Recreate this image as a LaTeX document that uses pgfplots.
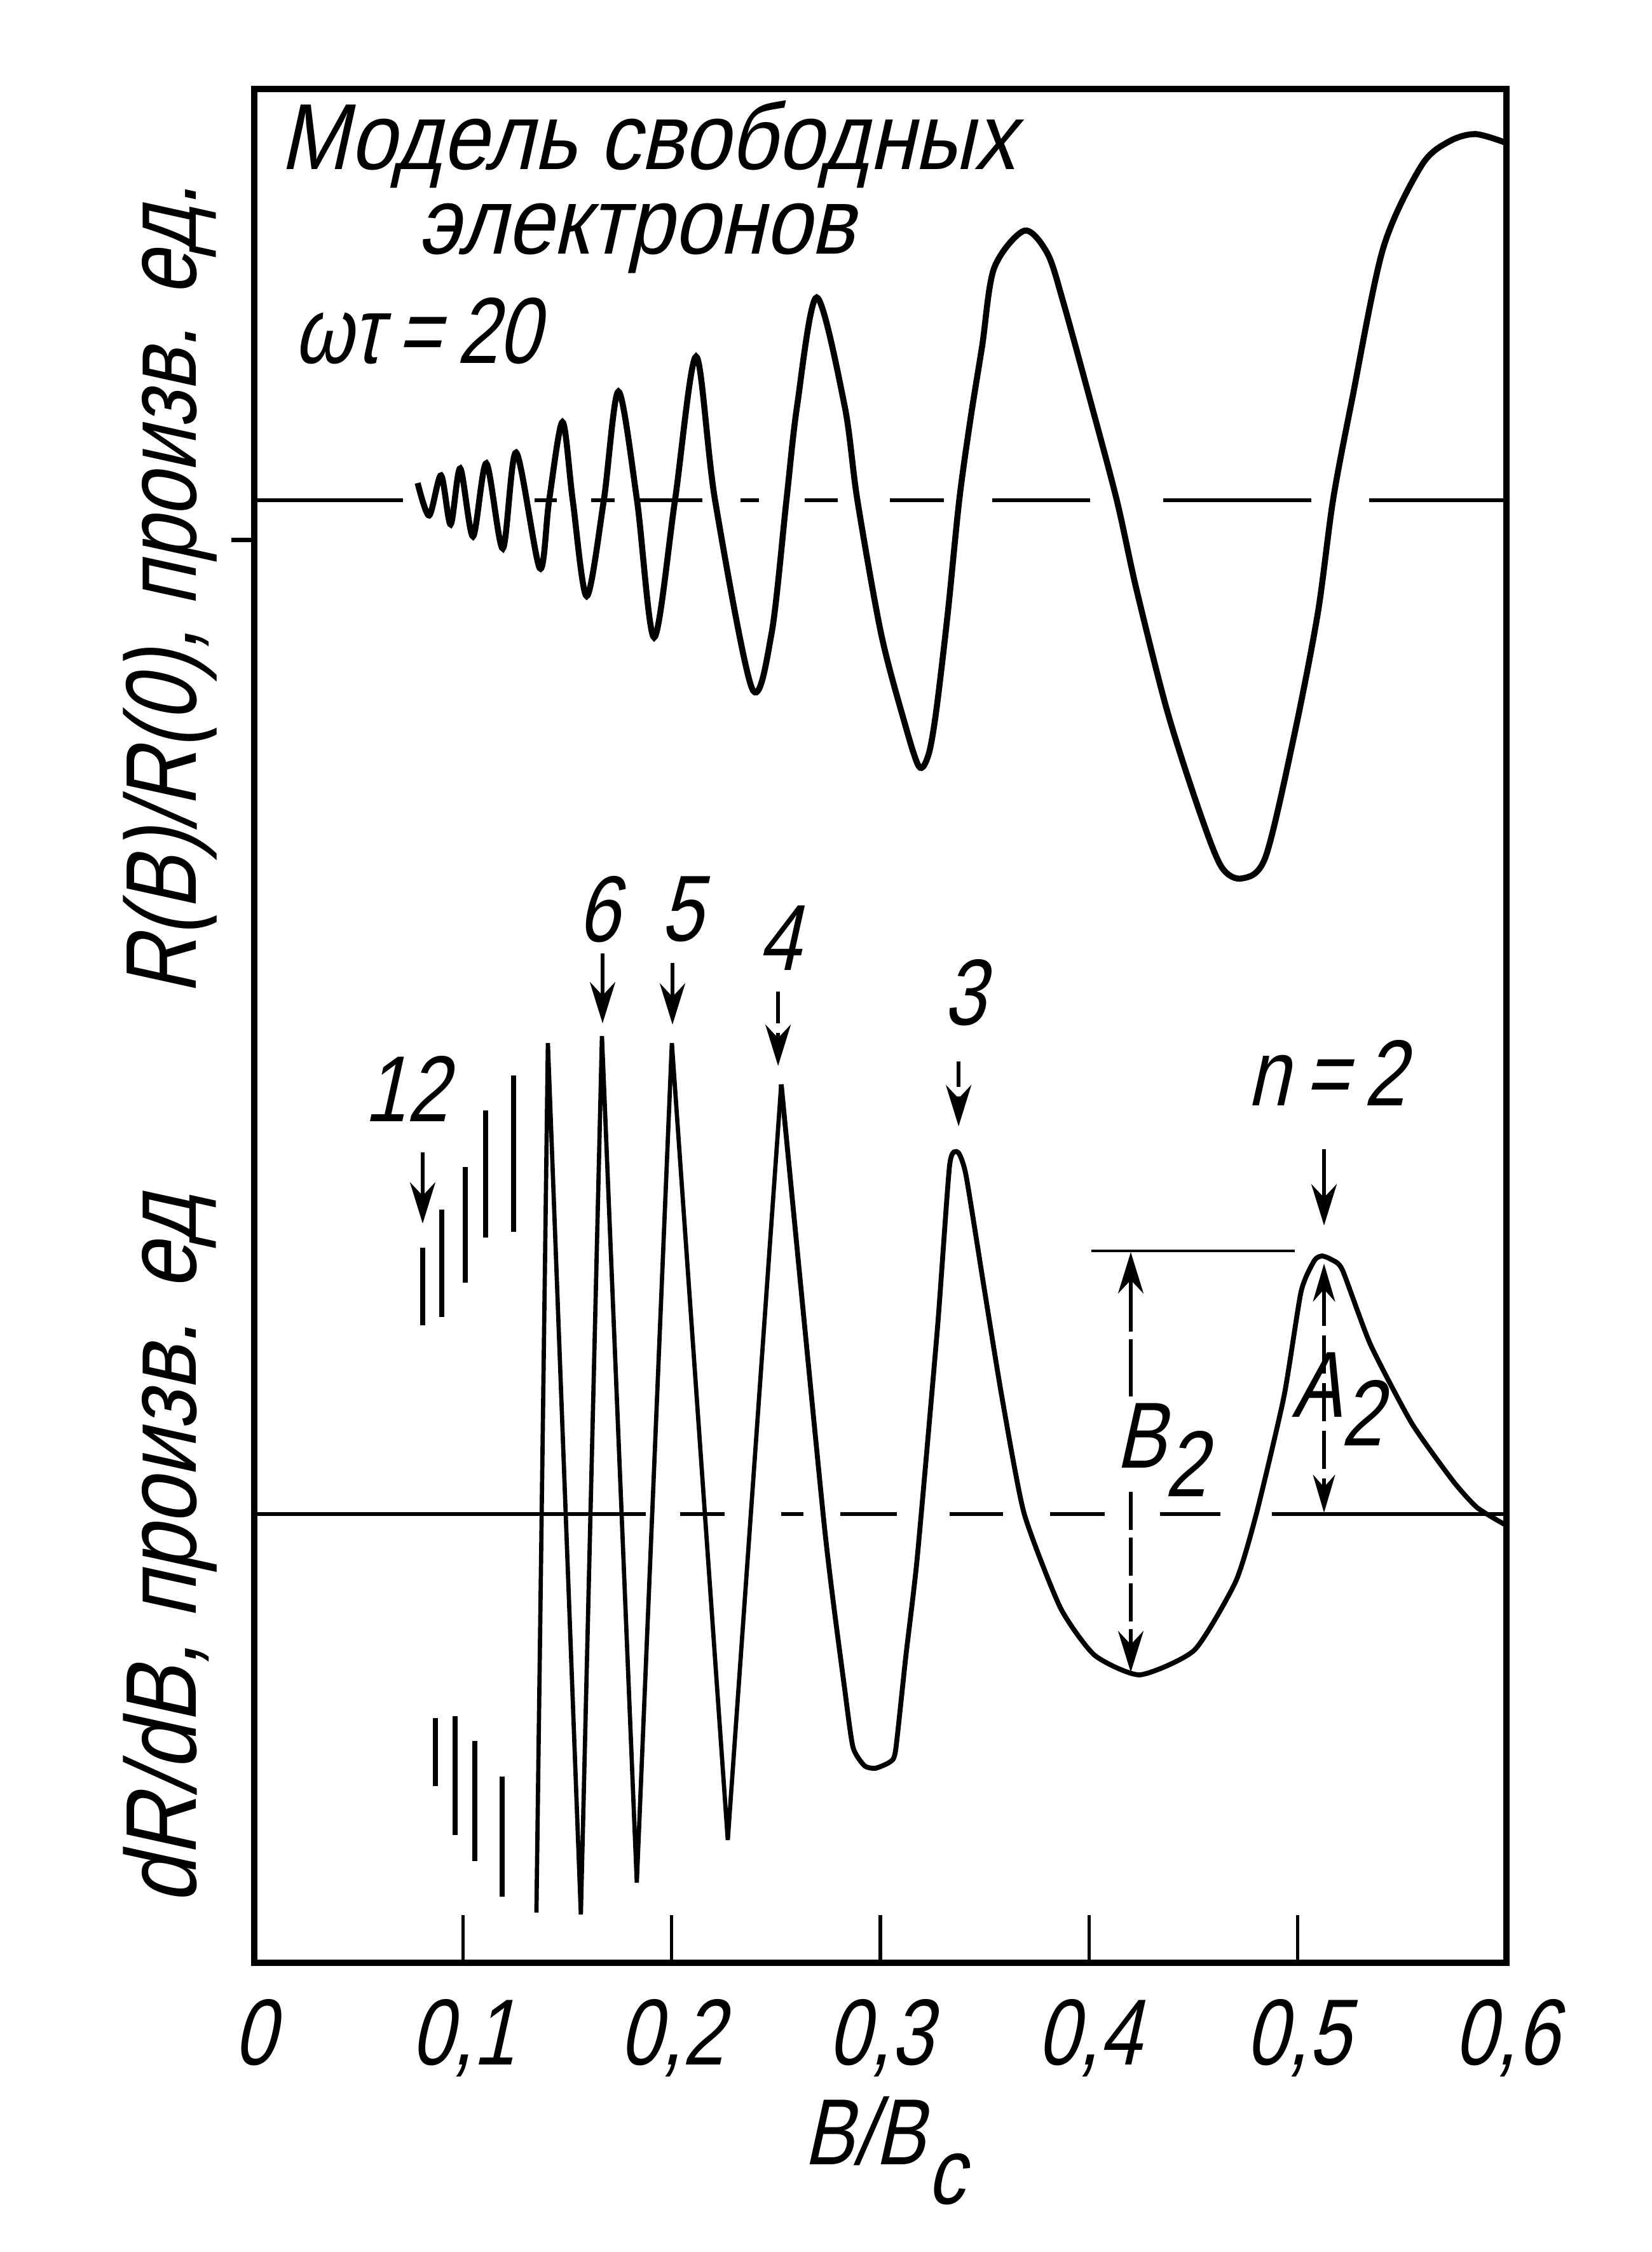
\documentclass[border=0pt]{standalone}
\usepackage{pgfplots}
\pgfplotsset{compat=1.18}
\usepackage{fontspec}
\usetikzlibrary{arrows.meta}
\newfontfamily\gost[FakeStretch=0.8,FakeSlant=0.22]{Liberation Sans}
\newfontfamily\gostw[FakeStretch=0.88,FakeSlant=0.22]{Liberation Sans}
\newfontfamily\gostl[FakeStretch=0.85,FakeSlant=0.22]{Liberation Sans}
\newcommand\gf{\gost\fontsize{42}{50}\selectfont}
\newcommand\gw{\gostw\fontsize{42}{50}\selectfont}
\newcommand\gl{\gost\fontsize{45}{54}\selectfont}
\newcommand\glb{\gostl\fontsize{45}{54}\selectfont}
\begin{document}
\begin{tikzpicture}
\useasboundingbox (-40mm,-45.5mm) rectangle (219.8mm,308.8mm);
\begin{axis}[
  at={(0,0)}, anchor=south west,
  scale only axis, width=197mm, height=294.8mm,
  xmin=0, xmax=0.6, ymin=0, ymax=2948,
  axis line style={line width=2.8pt},
  xtick={0,0.1,0.2,0.3,0.4,0.5,0.6},
  xticklabels={0,{0,1},{0,2},{0,3},{0,4},{0,5},{0,6}},
  xtick pos=left,
  tick align=inside,
  major tick length=7.5mm,
  every tick/.style={line width=1.5pt, black},
  ytick=\empty,
  xticklabel style={font=\gf, anchor=north, inner sep=0pt, yshift=-5.7mm},
  clip=false,
]
% upper zero line
\addplot[black, line width=1.6pt, unbounded coords=jump] coordinates {
 (0,2301) (0.0713,2301) (0.0714,nan)
 (0.1343,2301) (0.1450,2301) (0.1451,nan)
 (0.1614,2301) (0.1727,2301) (0.1728,nan)
 (0.1843,2301) (0.2147,2301) (0.2148,nan)
 (0.2330,2301) (0.2418,2301) (0.2419,nan)
 (0.2638,2301) (0.2796,2301) (0.2797,nan)
 (0.3046,2301) (0.3305,2301) (0.3306,nan)
 (0.3536,2301) (0.4005,2301) (0.4006,nan)
 (0.4355,2301) (0.5065,2301) (0.5066,nan)
 (0.5342,2301) (0.6,2301)
};
% lower zero line
\addplot[black, line width=1.6pt, unbounded coords=jump] coordinates {
 (0,706) (0.1876,706) (0.1877,nan)
 (0.2041,706) (0.2254,706) (0.2255,nan)
 (0.2525,706) (0.2632,706) (0.2633,nan)
 (0.2808,706) (0.3079,706) (0.3080,nan)
 (0.3332,706) (0.3588,706) (0.3589,nan)
 (0.3813,706) (0.4075,706) (0.4076,nan)
 (0.4340,706) (0.4629,706) (0.4630,nan)
 (0.4876,706) (0.6,706)
};
% R(B)/R(0)
\addplot[black, line width=2.7pt, smooth, tension=0.5] coordinates {
 (0.0783,2328) (0.0838,2277) (0.0895,2340) (0.0941,2263) (0.0987,2351)
 (0.1048,2244) (0.1112,2359) (0.1191,2225) (0.1255,2376) (0.1368,2194)
 (0.1413,2301) (0.1477,2424) (0.1526,2301) (0.1593,2150) (0.1675,2301)
 (0.1745,2472) (0.1834,2301) (0.1916,2085) (0.2016,2301) (0.2117,2527)
 (0.2208,2301) (0.2385,2005) (0.2479,2092) (0.2550,2301) (0.2601,2449)
 (0.2695,2620) (0.2829,2449) (0.2890,2301) (0.3003,2092) (0.3110,1958)
 (0.3185,1882) (0.3231,1901) (0.3268,1970) (0.3323,2123) (0.3378,2301)
 (0.3432,2429) (0.3488,2544) (0.3545,2666) (0.3690,2725) (0.3801,2689)
 (0.3877,2612) (0.4005,2459) (0.4133,2301) (0.4227,2161) (0.4374,1970)
 (0.4523,1817) (0.4633,1725) (0.4733,1706) (0.4846,1740) (0.4983,1931)
 (0.5096,2123) (0.5169,2301) (0.5260,2459) (0.5409,2697) (0.5592,2827)
 (0.5723,2865) (0.5851,2877) (0.6,2863)
};
% dR/dB, sharp part
\addplot[black, line width=1.9pt, sharp plot] coordinates {
 (0.1352,79) (0.1407,1447) (0.1565,76) (0.1666,1458) (0.1833,126)
 (0.2001,1447) (0.2269,193) (0.2525,1382)
};
% dR/dB, smooth part
\addplot[black, line width=2.2pt, smooth, tension=0.35] coordinates {
 (0.2525,1382) (0.2732,686) (0.2829,431) (0.2869,339) (0.2924,310)
 (0.2976,306) (0.3046,316) (0.3073,334) (0.3122,482) (0.3177,638)
 (0.3274,1000) (0.3332,1255) (0.3372,1275) (0.3411,1238) (0.3500,1056)
 (0.3582,891) (0.3688,708) (0.3862,559) (0.4026,484) (0.4243,453)
 (0.4505,492) (0.4703,600) (0.4803,708) (0.4934,891) (0.5016,1056)
 (0.5080,1105) (0.5117,1112) (0.5163,1106) (0.5214,1090) (0.5348,973)
 (0.5546,849) (0.5744,758) (0.5860,716) (0.6,688)
};
% unresolved oscillations (n > 6)
\addplot[black, line width=2.2pt, unbounded coords=jump] coordinates {
 (0.0807,1125) (0.0807,1003) (0.0808,nan)
 (0.0898,1185) (0.0898,1016) (0.0899,nan)
 (0.1011,1252) (0.1011,1070) (0.1012,nan)
 (0.1109,1341) (0.1109,1141) (0.1110,nan)
 (0.1243,1396) (0.1243,1150) (0.1244,nan)
 (0.0868,385) (0.0868,278) (0.0869,nan)
 (0.0962,388) (0.0962,201) (0.0963,nan)
 (0.1057,349) (0.1057,160) (0.1058,nan)
 (0.1188,293) (0.1188,104)
};
% texts
\node[font=\gw, anchor=base west, inner sep=0pt] at (axis cs:0.0122,2821) {Модель свободных};
\node[font=\gw, anchor=base west, inner sep=0pt] at (axis cs:0.0783,2688) {электронов};
\node[font=\gf, anchor=base west, inner sep=0pt] at (axis cs:0.0189,2516) {ωτ\,=\,20};
\node[font=\gl, rotate=90, anchor=base, inner sep=0pt] at (axis cs:-0.028,2160) {R(B)/R(0), произв. ед.};
\node[font=\glb, rotate=90, anchor=base, inner sep=0pt] at (axis cs:-0.028,650) {dR/dB, произв. ед};
\node[font=\gf, anchor=base west, inner sep=0pt] (bb) at (axis cs:0.2632,-317) {B/B};
\node[font=\gf, anchor=base west, inner sep=0pt] at ([xshift=0.2mm,yshift=-6.2mm]bb.base east) {c};
% labels of peaks
\node[font=\gf] at (axis cs:0.0728,1375) {12};
\node[font=\gf] at (axis cs:0.1648,1657) {6};
\node[font=\gf] at (axis cs:0.2047,1658) {5};
\node[font=\gf] at (axis cs:0.2516,1612) {4};
\node[font=\gf] at (axis cs:0.3402,1526) {3};
\node[font=\gf] at (axis cs:0.5138,1400) {n\,=\,2};
\node[font=\gf, anchor=base west, inner sep=0pt] (b2) at (axis cs:0.4127,778) {B};
\node[font=\gf, anchor=base west, inner sep=0pt] at ([xshift=-0.3mm,yshift=-4.5mm]b2.base east) {2};
\node[font=\gf, anchor=base west, inner sep=0pt] (a2) at (axis cs:0.4970,858) {A};
\node[font=\gf, anchor=base west, inner sep=0pt] at ([xshift=-0.3mm,yshift=-4.5mm]a2.base east) {2};
% arrows
\tikzset{ar/.style={line width=1.6pt, -{Stealth[length=6.5mm,width=4mm]}}}
\draw[ar] (axis cs:0.0807,1275) -- (axis cs:0.0807,1163);
\draw[ar] (axis cs:0.1669,1588) -- (axis cs:0.1669,1478);
\draw[ar] (axis cs:0.2004,1573) -- (axis cs:0.2004,1476);
\draw[ar, dash pattern=on 5mm off 1.5mm] (axis cs:0.2510,1528) -- (axis cs:0.2510,1411);
\draw[ar, dash pattern=on 4mm off 1.5mm] (axis cs:0.3375,1418) -- (axis cs:0.3375,1316);
\draw[ar] (axis cs:0.5126,1280) -- (axis cs:0.5126,1160);
% B2 and A2 construction
\draw[line width=1.4pt] (axis cs:0.4011,1120) -- (axis cs:0.4986,1120);
\draw[ar, dash pattern=on 9mm off 1.2mm] (axis cs:0.4200,891) -- (axis cs:0.4200,1118);
\draw[ar, dash pattern=on 6mm off 1.2mm] (axis cs:0.4200,741) -- (axis cs:0.4200,457);
\draw[line width=1.5pt, {Stealth[length=6mm,width=3.5mm]}-{Stealth[length=6mm,width=3.5mm]}, dash pattern=on 6mm off 1.5mm] (axis cs:0.5126,1100) -- (axis cs:0.5126,708);
\draw[line width=2pt] (axis cs:-0.011,2238) -- (axis cs:0,2238);
\end{axis}
\end{tikzpicture}
\end{document}
